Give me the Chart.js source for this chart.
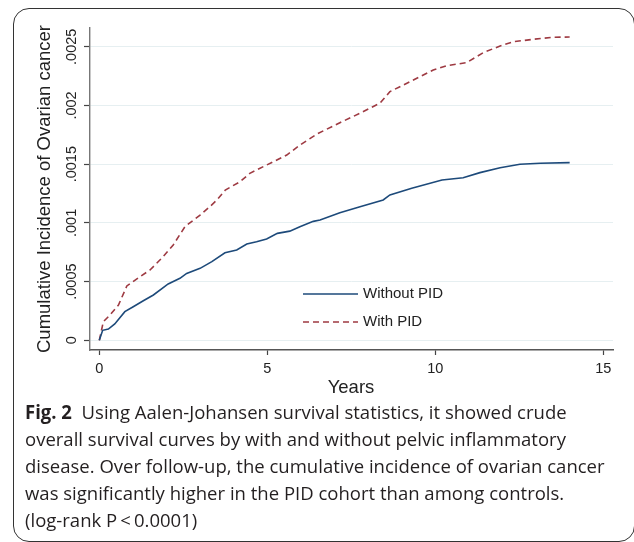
<!DOCTYPE html>
<html>
<head>
<meta charset="utf-8">
<script src="https://cdn.jsdelivr.net/npm/chart.js@4.4.1/dist/chart.umd.min.js"></script>
<style>
  html, body { margin: 0; padding: 0; background: #fff; }
  body { width: 634px; height: 542px; position: relative; overflow: hidden; }
  #frame {
    position: absolute; left: 13px; top: 8px; width: 622px; height: 534px;
    border: 1.5px solid #333; border-radius: 16px; box-sizing: border-box;
  }
  #chart { position: absolute; left: 0; top: 0; }
  #caption {
    position: absolute; left: 25px; top: 399px;
    font-family: "Open Sans", "Noto Sans", sans-serif; font-size: 19px;
    line-height: 27px; color: #231f20;
  }
  #caption div { white-space: nowrap; transform-origin: left center; width: max-content; }
</style>
</head>
<body>
<div id="frame"></div>
<canvas id="chart" width="634" height="400"></canvas>
<div id="caption">
  <div><b>Fig. 2</b>&nbsp; Using Aalen-Johansen survival statistics, it showed crude</div>
  <div>overall survival curves by with and without pelvic inflammatory</div>
  <div>disease. Over follow-up, the cumulative incidence of ovarian cancer</div>
  <div>was significantly higher in the PID cohort than among controls.</div>
  <div>(log-rank P&thinsp;&lt;&thinsp;0.0001)</div>
</div>
<script>
// years of follow-up and cumulative incidence
const yearsWithout = [0, 0.1, 0.27, 0.46, 0.76, 1.01, 1.31, 1.61, 2.05, 2.4, 2.6, 3.0, 3.35, 3.74, 4.09, 4.39, 4.68, 4.98, 5.3, 5.67, 5.97, 6.37, 6.57, 7.16, 7.76, 8.45, 8.65, 9.3, 10.2, 10.83, 11.33, 11.93, 12.52, 13.12, 14.0];
const incWithout = [0, 0.000085, 0.000096, 0.000139, 0.000244, 0.000286, 0.000337, 0.000386, 0.00048, 0.000528, 0.00057, 0.000613, 0.00067, 0.000746, 0.000769, 0.00082, 0.00084, 0.000863, 0.000911, 0.00093, 0.000968, 0.001013, 0.001025, 0.001087, 0.001138, 0.001195, 0.001238, 0.001295, 0.001365, 0.001385, 0.001428, 0.00147, 0.0015, 0.001508, 0.001513];

const yearsWith = [0, 0.12, 0.32, 0.57, 0.82, 1.21, 1.51, 1.9, 2.2, 2.55, 3.0, 3.29, 3.5, 3.75, 4.19, 4.48, 4.98, 5.58, 5.97, 6.5, 7.16, 7.76, 8.35, 8.65, 9.25, 9.94, 10.34, 10.93, 11.43, 11.93, 12.33, 12.92, 13.52, 14.0];
const incWith = [0, 0.000158, 0.000216, 0.0003, 0.000463, 0.000542, 0.000599, 0.000712, 0.000812, 0.000968, 0.001067, 0.001138, 0.001195, 0.00128, 0.001351, 0.001422, 0.001493, 0.001578, 0.001663, 0.00176, 0.001853, 0.001934, 0.002019, 0.002118, 0.002203, 0.002302, 0.002339, 0.002365, 0.00245, 0.002507, 0.002543, 0.002564, 0.002581, 0.002583];

const seriesNames = ['Without PID', 'With PID'];
const xTicks = [0, 5, 10, 15];
const yTicks = [0, 0.0005, 0.001, 0.0015, 0.002, 0.0025];
const yTickLabels = ['0', '.0005', '.001', '.0015', '.002', '.0025'];

const blue = '#1d4a7a';
const red = '#9e3a42';
const axisFont = '"Liberation Sans", Arial, sans-serif';

function toPoints(xs, ys) {
  return xs.map((x, i) => ({ x: x, y: ys[i] }));
}

const extras = {
  id: 'extras',
  afterDraw(chart) {
    const c = chart.ctx;
    const ys = chart.scales.y;
    const area = chart.chartArea;
    c.save();
    c.fillStyle = '#222';
    // rotated y tick labels
    c.font = '14.5px ' + axisFont;
    c.textAlign = 'center';
    c.textBaseline = 'middle';
    yTicks.forEach((v, i) => {
      c.save();
      c.translate(72, ys.getPixelForValue(v));
      c.rotate(-Math.PI / 2);
      c.fillText(yTickLabels[i], 0, 0);
      c.restore();
    });
    // axis titles
    c.font = '18.5px ' + axisFont;
    c.save();
    c.translate(45, (area.top + area.bottom) / 2);
    c.rotate(-Math.PI / 2);
    c.fillText('Cumulative Incidence of Ovarian cancer', 0, 0);
    c.restore();
    c.fillText('Years', 351, 388);
    // legend inside the plot
    c.font = '15px ' + axisFont;
    c.textAlign = 'left';
    chart.data.datasets.forEach((ds, i) => {
      const y = 294 + i * 28;
      c.strokeStyle = ds.borderColor;
      c.lineWidth = ds.borderWidth;
      c.setLineDash(ds.borderDash || []);
      c.beginPath();
      c.moveTo(303, y);
      c.lineTo(358, y);
      c.stroke();
      c.fillText(ds.label, 363, y);
    });
    c.restore();
  }
};

new Chart(document.getElementById('chart'), {
  type: 'line',
  data: {
    datasets: [{
      label: seriesNames[0],
      data: toPoints(yearsWithout, incWithout),
      borderColor: blue,
      borderWidth: 1.6,
      pointRadius: 0,
      tension: 0
    }, {
      label: seriesNames[1],
      data: toPoints(yearsWith, incWith),
      borderColor: red,
      borderWidth: 1.6,
      borderDash: [6, 4],
      pointRadius: 0,
      tension: 0
    }]
  },
  options: {
    responsive: false,
    animation: false,
    layout: { padding: { left: 0, right: 21, top: 28, bottom: 0 } },
    plugins: { legend: { display: false }, tooltip: { enabled: false } },
    scales: {
      x: {
        type: 'linear',
        min: -0.277,
        max: 15.29,
        afterFit: s => { s.height = 50; },
        afterBuildTicks: s => { s.ticks = xTicks.map(v => ({ value: v })); },
        grid: { drawOnChartArea: false, tickLength: 5, tickColor: '#444', tickWidth: 1.2 },
        border: { color: '#555', width: 1.4 },
        ticks: { padding: 5, color: '#222', font: { family: axisFont, size: 14.5 } }
      },
      y: {
        type: 'linear',
        min: -0.0000826,
        max: 0.00266,
        afterFit: s => { s.width = 90; },
        afterBuildTicks: s => { s.ticks = yTicks.map(v => ({ value: v })); },
        grid: { color: '#e6eff1', lineWidth: 1, tickLength: 6, tickColor: '#444', tickWidth: 1.2 },
        border: { color: '#777', width: 1.4 },
        ticks: { display: false }
      }
    }
  },
  plugins: [extras]
});

// the caption face is condensed; squeeze lines evenly to its measured widths
const lineEnds = [569, 566, 600, 566];
const rows = document.querySelectorAll('#caption div');
let k = 0;
lineEnds.forEach((e, i) => { k += (e - 25) / rows[i].getBoundingClientRect().width; });
k /= lineEnds.length;
rows.forEach(r => { r.style.transform = 'scaleX(' + k.toFixed(4) + ')'; });
</script>
</body>
</html>
